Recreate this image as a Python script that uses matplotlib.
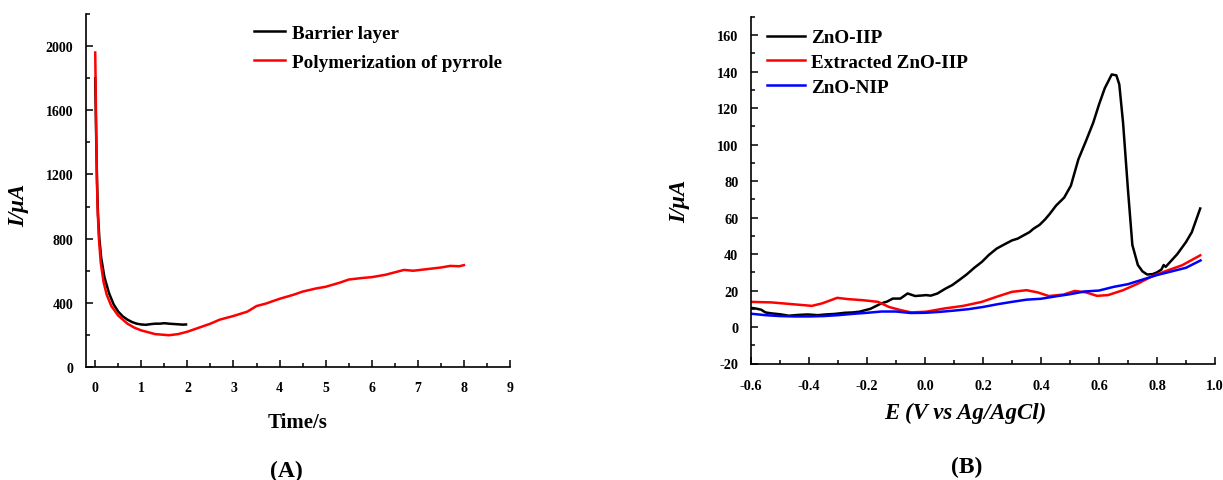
import numpy as np
import matplotlib
matplotlib.use('Agg')
import matplotlib.pyplot as plt
from matplotlib.ticker import MultipleLocator

plt.rcParams['font.family'] = ['Liberation Serif', 'DejaVu Serif']
plt.rcParams['font.weight'] = 'bold'
plt.rcParams['axes.unicode_minus'] = False

# panel A: current vs time
t_barrier = [0, 0.02, 0.04, 0.06, 0.09, 0.13, 0.2, 0.3, 0.4, 0.5, 0.6, 0.7, 0.8, 0.9, 1.0,
             1.1, 1.2, 1.3, 1.4, 1.5, 1.6, 1.7, 1.8, 1.9, 1.97]
i_barrier = [1800, 1450, 1150, 950, 800, 680, 560, 460, 390, 345, 315, 295, 280, 270, 265,
             263, 267, 270, 270, 273, 270, 268, 266, 264, 265]

t_pyrrole = [0, 0.01, 0.02, 0.035, 0.05, 0.08, 0.12, 0.18, 0.25, 0.35, 0.5, 0.7, 0.85, 1.0,
             1.3, 1.6, 1.8, 2.0, 2.3, 2.5, 2.7, 3.0, 3.3, 3.5, 3.7, 4.0, 4.3, 4.5, 4.8,
             5.0, 5.3, 5.5, 5.8, 6.0, 6.3, 6.5, 6.7, 6.9, 7.2, 7.5, 7.7, 7.9, 8.0]
i_pyrrole = [1960, 1750, 1500, 1200, 1000, 800, 650, 530, 450, 380, 320, 270, 245, 228,
             205, 198, 205, 220, 250, 270, 295, 318, 345, 380, 395, 425, 450, 470, 490,
             500, 525, 545, 555, 560, 575, 590, 605, 600, 610, 620, 630, 628, 635]

# panel B: DPV curves
e_iip = [-0.6, -0.585, -0.565, -0.55, -0.53, -0.5, -0.47, -0.44, -0.405, -0.37, -0.341, -0.31,
         -0.277, -0.25, -0.226, -0.2, -0.188, -0.15, -0.13, -0.111, -0.085, -0.06, -0.034,
         -0.01, 0.004, 0.02, 0.043, 0.07, 0.094, 0.12, 0.145, 0.17, 0.196, 0.22, 0.247, 0.27,
         0.3, 0.32, 0.337, 0.36, 0.375, 0.395, 0.414, 0.43, 0.452, 0.48, 0.503, 0.529,
         0.555, 0.58, 0.6, 0.62, 0.644, 0.66, 0.67, 0.683, 0.7, 0.715, 0.734, 0.75, 0.766,
         0.785, 0.8, 0.815, 0.823, 0.83, 0.85, 0.87, 0.9, 0.92, 0.949]
i_iip = [10.5, 10.2, 9.5, 8.0, 7.5, 7.0, 6.2, 6.6, 6.9, 6.5, 6.9, 7.2,
         7.8, 8.0, 8.4, 9.5, 10.0, 13.0, 14.0, 15.6, 15.6, 18.4, 17.0,
         17.3, 17.5, 17.2, 18.4, 21.0, 23.0, 26.0, 29.0, 32.5, 35.7, 39.5, 43.0, 45.0,
         47.5, 48.5, 50.0, 52.0, 54.0, 56.0, 59.0, 62.0, 66.6, 71.0, 77.5, 92.0,
         102.0, 112.0, 122.0, 131.0, 138.5, 138.0, 133.0, 112.0, 75.0, 45.0, 34.0, 30.5, 28.8,
         29.0, 30.0, 31.5, 34.0, 33.0, 36.5, 40.0, 46.6, 52.0, 65.0]

e_ext = [-0.6, -0.53, -0.47, -0.39, -0.354, -0.303, -0.265, -0.213, -0.162, -0.124, -0.085,
         -0.047, 0.004, 0.068, 0.132, 0.196, 0.247, 0.3, 0.35, 0.388, 0.427, 0.478, 0.516,
         0.555, 0.593, 0.631, 0.683, 0.734, 0.785, 0.836, 0.887, 0.949]
i_ext = [13.8, 13.5, 12.7, 11.6, 13.0, 16.0, 15.3, 14.7, 13.8, 11.0, 9.3,
         8.0, 8.4, 10.2, 11.6, 13.8, 16.6, 19.3, 20.2, 19.0, 17.0, 17.8, 19.8,
         19.0, 17.1, 17.5, 20.2, 23.8, 28.0, 31.0, 33.9, 39.3]

e_nip = [-0.6, -0.55, -0.5, -0.45, -0.4, -0.35, -0.3, -0.25, -0.2, -0.15, -0.1, -0.05, 0.0,
         0.05, 0.1, 0.15, 0.2, 0.25, 0.3, 0.35, 0.4, 0.45, 0.5, 0.55, 0.6, 0.65, 0.7, 0.75,
         0.8, 0.85, 0.9, 0.95]
i_nip = [7.3, 6.5, 6.0, 5.8, 5.8, 6.0, 6.5, 7.2, 7.8, 8.5, 8.5, 7.7, 7.8,
         8.3, 9.0, 9.8, 11.0, 12.5, 13.8, 15.0, 15.5, 16.8, 18.0, 19.5, 20.0, 22.0, 23.5, 26.0,
         28.5, 30.5, 32.5, 36.5]

W, H = 1223, 481
fig = plt.figure(figsize=(W / 100, H / 100), dpi=100)
axA = fig.add_axes([86 / W, 1 - 368 / H, (510 - 86) / W, (368 - 15) / H])
axB = fig.add_axes([751 / W, 1 - 364.5 / H, (1215 - 751) / W, (364.5 - 18) / H])

lw = 1.8
for ax in (axA, axB):
    for s in ('top', 'right'):
        ax.spines[s].set_visible(False)
    for s in ('left', 'bottom'):
        ax.spines[s].set_linewidth(1.2)
    ax.tick_params(which='both', direction='in', width=1.1)
    ax.tick_params(which='major', length=5)
    ax.tick_params(which='minor', length=3)
    ax.tick_params(axis='y', which='major', pad=9)

# --- A ---
axA.plot(t_barrier, i_barrier, color='black', lw=lw, label='Barrier layer')
axA.plot(t_pyrrole, i_pyrrole, color='red', lw=lw, label='Polymerization of pyrrole')
axA.set_xlim(-0.2, 9)
axA.set_ylim(0, 2200)
axA.xaxis.set_major_locator(MultipleLocator(1))
axA.xaxis.set_minor_locator(MultipleLocator(0.5))
axA.yaxis.set_major_locator(MultipleLocator(400))
axA.yaxis.set_minor_locator(MultipleLocator(200))
axA.tick_params(axis='x', which='major', pad=10)
for lab in axA.get_xticklabels() + axA.get_yticklabels():
    lab.set_fontsize(10)
    lab.set_fontweight('bold')
axA.set_xlabel('Time/s', fontsize=15, fontweight='bold')
axA.xaxis.set_label_coords(0.5, -0.127)
axA.set_ylabel('I/μA', fontsize=16.5, fontweight='bold', fontstyle='italic')
axA.yaxis.set_label_coords(-0.134, 0.46)
axA.legend(loc='upper left', bbox_to_anchor=(0.355, 1.02), frameon=False,
           prop={'size': 13.8, 'weight': 'bold'}, handlelength=1.65,
           handletextpad=0.35, labelspacing=0.6)

# --- B ---
axB.plot(e_iip, i_iip, color='black', lw=lw, label='ZnO-IIP')
axB.plot(e_ext, i_ext, color='red', lw=lw, label='Extracted ZnO-IIP')
axB.plot(e_nip, i_nip, color='blue', lw=lw, label='ZnO-NIP')
axB.set_xlim(-0.6, 1.0)
axB.set_ylim(-20, 170)
axB.xaxis.set_minor_locator(MultipleLocator(0.1))
axB.yaxis.set_major_locator(MultipleLocator(20))
axB.yaxis.set_minor_locator(MultipleLocator(10))
axB.set_xticks(np.arange(-0.6, 1.01, 0.2))
axB.set_xticklabels(['-0.6', '-0.4', '-0.2', '0.0', '0.2', '0.4', '0.6', '0.8', '1.0'])
axB.tick_params(axis='x', which='major', pad=11)
for lab in axB.get_xticklabels() + axB.get_yticklabels():
    lab.set_fontsize(10.3)
    lab.set_fontweight('bold')
axB.set_xlabel('E (V vs Ag/AgCl)', fontsize=16.5, fontweight='bold', fontstyle='italic')
axB.xaxis.set_label_coords(0.461, -0.11)
axB.set_ylabel('I/μA', fontsize=16.5, fontweight='bold', fontstyle='italic')
axB.yaxis.set_label_coords(-0.131, 0.47)
axB.legend(loc='upper left', bbox_to_anchor=(-0.003, 1.015), frameon=False,
           prop={'size': 13.8, 'weight': 'bold'}, handlelength=2.0,
           handletextpad=0.3, labelspacing=0.38)

fig.text(286 / W, 1 - 471 / H, '(A)', fontsize=17, fontweight='bold', ha='center', va='center')
fig.text(967 / W, 1 - 467 / H, '(B)', fontsize=17, fontweight='bold', ha='center', va='center')

fig.savefig('out.png', dpi=100)
